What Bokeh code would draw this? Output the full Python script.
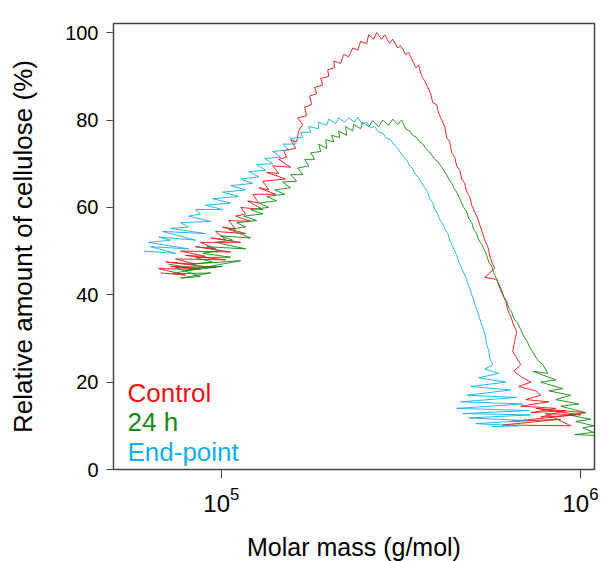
from bokeh.plotting import figure
from bokeh.models import Range1d, FixedTicker, Label
from bokeh.embed import file_html
from bokeh.resources import INLINE

# ---------------- data ----------------
control_M = [67800, 79500, 66900, 87500, 72200, 96400, 70000, 84800, 74600, 102800,
             79500, 90400, 77000, 106100, 84800, 96400, 87500, 113200, 93400, 102800,
             96400, 116900, 100800, 109600, 104800, 120700, 109600, 116900, 113200, 130400,
             118400, 127100, 122300, 141700, 127100, 135500, 130400, 151100, 133800, 144400,
             139000, 156000, 144400, 152000, 149200, 161100, 156000, 162100, 164200, 168500,
             163200, 172800, 170600, 178400, 176200, 184300, 181900, 191600, 189100, 199100,
             197800, 206800, 205500, 214900, 219100, 226200, 232200, 239700, 244300, 253900,
             257200, 265600, 270700, 279500, 284900, 294200, 300000, 309800, 315800, 326100,
             332400, 341100, 347700, 354400, 361400, 368400, 375600, 382800, 387800, 397800,
             403000, 410800, 418800, 424200, 432500, 438000, 446500, 452300, 461100, 467000,
             476100, 482200, 491600, 498000, 507700, 517600, 524200, 534500, 541300, 551900,
             559000, 566100, 577100, 541300, 584600, 596000, 607600, 619400, 627400, 639500,
             652000, 664600, 656100, 647800, 664600, 681900, 652000, 690800, 727200, 673200,
             750900, 775300, 704100, 816200, 681900, 853600, 727200, 910100, 775300, 970300,
             639500, 881400, 607600, 939700, 800600, 1001900, 750900, 1034600]
control_y = [45, 44.5, 46, 45.8, 46.5, 46.2, 47.5, 47, 48.2, 48,
             49, 48.8, 50, 49.8, 51, 50.5, 52, 52, 53, 52.6,
             54.5, 54, 55.5, 55, 57, 56.8, 58, 58.5, 60, 59.5,
             61.5, 61, 63, 63, 64.5, 64, 66, 66.5, 68, 67.8,
             69.5, 69.2, 71, 71.5, 73, 73.5, 75.5, 75, 77.5, 79,
             80.5, 81, 83, 83.5, 85.5, 86, 87.5, 88, 89.5, 90,
             91.5, 92, 93.5, 93, 95, 94.5, 96.5, 96, 98, 97.5,
             99.5, 98.5, 100, 98.5, 99.5, 97.5, 98.5, 96.5, 97, 95,
             95.5, 93.5, 92, 92.5, 90, 89, 87.5, 86, 84, 83.5,
             81.5, 80, 78.5, 76, 75, 72.5, 71.5, 69.5, 68.5, 66.5,
             65.5, 63.5, 62.5, 60.5, 59, 57.5, 56, 54, 52.5, 51,
             49, 47.5, 46, 44, 43.5, 41.5, 40, 38.5, 36.5, 35,
             33, 31.5, 29.5, 27, 25.5, 24, 22.5, 21, 20, 19,
             18, 17, 16, 15.5, 14.5, 14, 13, 13.5, 12, 12.5,
             11, 11.5, 10.2, 10, 12.8, 12.5, 14, 13]

h24_M = [71300, 84800, 73200, 93400, 77000, 87500, 74600, 100800, 79500, 113200,
         82100, 94600, 84800, 106100, 88700, 98300, 91000, 116900, 96400, 107500,
         99500, 120700, 104800, 116900, 110300, 125400, 115400, 130400, 120700, 135500,
         127100, 142600, 133800, 150100, 140800, 156000, 148200, 162100, 156000, 168500,
         163200, 175100, 170600, 181900, 177300, 189100, 186600, 196500, 195300, 205500,
         202900, 213600, 212200, 223300, 221900, 232200, 233700, 244300, 247500, 257200,
         263900, 274200, 281300, 292300, 300000, 309800, 317800, 326100, 334600, 341100,
         349900, 356700, 363800, 370800, 378000, 385300, 392800, 400400, 408200, 416200,
         424200, 429700, 438000, 443700, 452300, 458100, 467000, 473000, 482200, 488500,
         498000, 504400, 514200, 520900, 531000, 537900, 548300, 555400, 566100, 573500,
         584600, 592100, 603600, 611500, 623400, 631400, 643600, 652000, 668900, 681900,
         695200, 708700, 722500, 741400, 760700, 785400, 811000, 736700, 853600, 775300,
         892900, 816200, 939700, 853600, 989200, 881400, 1034600, 927900, 1068300, 970300,
         1089100, 1014900, 1089100, 964100, 1089100]
h24_y = [47, 46, 44.8, 45, 43.8, 44.2, 46.2, 46.5, 45.5, 47.8,
         47, 47.5, 48.5, 48.6, 49.5, 50, 51, 50.5, 52, 52.5,
         53.5, 53, 55, 55.5, 56.5, 57, 58, 58.5, 59.5, 60,
         61, 61.5, 62.5, 63, 64, 64.5, 65.8, 66, 67.5, 67.5,
         69, 69.5, 71, 71, 72.5, 72.8, 74.5, 73.5, 75.5, 75,
         76.5, 76, 77.5, 76.5, 78.5, 77.5, 79, 78, 79.5, 78.5,
         79.8, 78.5, 80, 78.8, 80.2, 79, 80, 78, 77.5, 76.5,
         76, 75, 74.5, 73.5, 72.8, 72, 71, 70.5, 69.5, 68.5,
         67.5, 66.5, 65.5, 64.5, 63.5, 62.5, 61, 60, 59, 57.5,
         56.5, 55, 54, 52.5, 51.5, 50.5, 49, 47.5, 46.5, 45,
         43.5, 42.5, 41, 39.5, 38.5, 37, 36, 34.5, 33.5, 32,
         30.5, 29.5, 28, 26.5, 25, 24, 22, 22.5, 20.5, 20,
         18.5, 18, 17, 16, 15, 14.5, 13, 12.5, 11.5, 11,
         10, 9.5, 8.5, 8, 7.8]

end_M = [60800, 74600, 63600, 81100, 62700, 72200, 66900, 84800, 68600, 90400,
         72200, 81100, 77000, 93400, 81100, 87500, 84800, 100800, 90400, 106100,
         94600, 111700, 100800, 116900, 106100, 122300, 113200, 127100, 119200, 132900,
         125400, 139000, 132000, 146300, 139000, 154000, 148200, 161100, 156000, 168500,
         166300, 177300, 175100, 186600, 186600, 196500, 199100, 208200, 212200, 220500,
         226200, 235200, 239700, 247500, 253900, 260500, 267300, 274200, 281300, 288600,
         296200, 303900, 309800, 315800, 322000, 328200, 334600, 341100, 347700, 354400,
         361400, 368400, 375600, 380500, 387800, 392800, 400400, 405600, 413500, 418800,
         427000, 432500, 438000, 446500, 452300, 458100, 464000, 473000, 479100, 485300,
         491600, 498000, 504400, 510900, 517600, 524200, 531000, 537900, 544800, 548300,
         555400, 559000, 569800, 541300, 592100, 520900, 619400, 494800, 639500, 482200,
         664600, 464000, 690800, 452300, 717800, 470000, 727200, 488500, 704100, 510900,
         673200, 562500]
end_y = [50, 49.5, 51, 50.5, 52, 52.5, 53.2, 52.5, 54.5, 54,
         55.2, 55.5, 56.5, 56.8, 58, 58.5, 59.5, 59.5, 60.5, 61,
         62, 62.5, 63.5, 64, 65, 65.5, 66.5, 67, 68.2, 68.5,
         69.8, 70, 71.2, 71.5, 72.8, 73.2, 74.5, 74.5, 75.8, 76,
         77.2, 77.2, 78.5, 78, 79.5, 78.8, 80.2, 79.2, 80.5, 79.5,
         80.5, 79.5, 80.6, 79, 79.5, 78.2, 78.5, 77.2, 77, 75.8,
         75.5, 74.2, 73.5, 72.5, 71.5, 70.8, 69.5, 68.8, 67.5, 66.8,
         65.5, 64.5, 63.5, 62, 61, 59.5, 58.5, 57.2, 56.2, 55,
         54, 52.5, 51.5, 50, 49, 47.5, 46.5, 45, 44, 42.5,
         41.5, 40, 38.8, 37.2, 36, 34.5, 33.2, 31.8, 30.2, 28.5,
         27.2, 25.5, 24, 23, 22, 21, 20, 19, 18.2, 17,
         16.5, 15.5, 15, 14, 13.5, 12.8, 12.5, 11.8, 11.2, 10.5,
         10, 9.8]

series_names = ["Control", "24 h", "End-point"]
series_colors = ["#EE1111", "#138A13", "#12AEEA"]

x_ticks = [1e5, 1e6]
y_ticks = [0, 20, 40, 60, 80, 100]
legend_x = [54800, 54800, 54800]
legend_y = [17.6, 10.9, 4.1]

# ---------------- figure ----------------
p = figure(width=603, height=561, x_axis_type="log",
           x_range=Range1d(50100, 1094000), y_range=Range1d(0, 102.1),
           frame_width=481, frame_height=446,
           output_backend="svg", toolbar_location=None)
p.min_border_left = 113
p.min_border_right = 9
p.min_border_top = 23
p.min_border_bottom = 92
p.background_fill_color = "white"
p.border_fill_color = "white"
p.grid.visible = False
p.outline_line_color = "#444444"
p.outline_line_width = 1.5

font = "Liberation Sans"
for ax in (p.xaxis[0], p.yaxis[0]):
    ax.axis_line_color = None
    ax.major_tick_line_color = "#444444"
    ax.major_tick_line_width = 1
    ax.major_tick_in = 0
    ax.minor_tick_line_color = None
    ax.major_label_text_font = font
    ax.major_label_text_color = "black"
    ax.axis_label_text_font = font
    ax.axis_label_text_font_style = "normal"
    ax.axis_label_text_color = "black"

p.xaxis.ticker = FixedTicker(ticks=x_ticks, minor_ticks=[])
p.xaxis.major_tick_out = 9
p.xaxis.major_label_text_font_size = "24px"
p.xaxis.major_label_standoff = 8
p.xaxis.axis_label = "Molar mass (g/mol)"
p.xaxis.axis_label_text_font_size = "25px"
p.xaxis.axis_label_standoff = 18

p.yaxis.ticker = FixedTicker(ticks=y_ticks, minor_ticks=[])
p.yaxis.major_tick_out = 7
p.yaxis.major_label_text_font_size = "20px"
p.yaxis.major_label_standoff = 8
p.yaxis.axis_label = "Relative amount of cellulose (%)"
p.yaxis.axis_label_text_font_size = "26px"
p.yaxis.axis_label_standoff = 24

for mx, my, c in ((control_M, control_y, series_colors[0]),
                  (h24_M, h24_y, series_colors[1]),
                  (end_M, end_y, series_colors[2])):
    p.line(mx, my, line_color=c, line_width=1, line_alpha=0.9)

for name, c, lx, ly in zip(series_names, series_colors, legend_x, legend_y):
    p.add_layout(Label(x=lx, y=ly, text=name, text_color=c, text_font=font,
                       text_font_size="26px", text_baseline="alphabetic"))

open("out.html", "w").write(file_html(p, INLINE))
